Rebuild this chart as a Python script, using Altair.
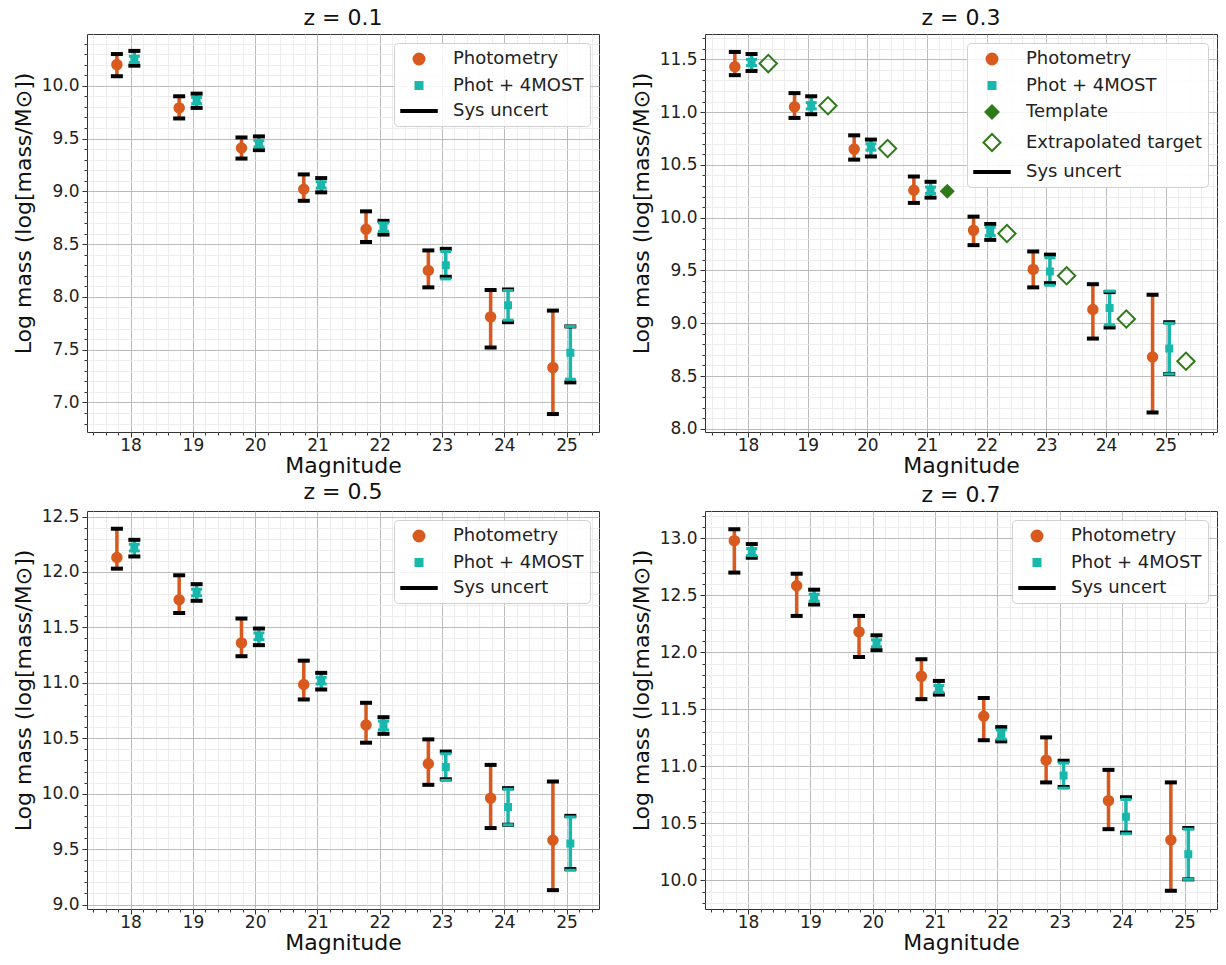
import altair as alt
import numpy as np
import pandas as pd

MAGS = [18, 19, 20, 21, 22, 23, 24, 25]
PHOT_DX = -0.22
MOST_DX = 0.06
TARGET_DX = 0.34

TITLES = ["z = 0.1", "z = 0.3", "z = 0.5", "z = 0.7"]

# ---- z = 0.1 ----
p1_phot = [10.20, 9.79, 9.41, 9.02, 8.64, 8.25, 7.81, 7.33]
p1_phot_lo = [10.09, 9.69, 9.31, 8.91, 8.52, 8.09, 7.52, 6.89]
p1_phot_hi = [10.30, 9.90, 9.51, 9.16, 8.81, 8.44, 8.065, 7.87]
p1_most = [10.25, 9.86, 9.45, 9.06, 8.66, 8.30, 7.92, 7.47]
p1_most_lo = [10.19, 9.79, 9.39, 8.99, 8.59, 8.19, 7.76, 7.19]
p1_most_hi = [10.33, 9.925, 9.52, 9.125, 8.72, 8.455, 8.07, 7.72]
p1_most_err = [0.03, 0.03, 0.03, 0.03, 0.04, 0.13, 0.14, 0.25]

# ---- z = 0.3 ----
p2_phot = [11.43, 11.05, 10.65, 10.26, 9.88, 9.51, 9.13, 8.68]
p2_phot_lo = [11.35, 10.945, 10.55, 10.14, 9.74, 9.34, 8.855, 8.155]
p2_phot_hi = [11.57, 11.18, 10.78, 10.39, 10.01, 9.68, 9.37, 9.27]
p2_most = [11.47, 11.06, 10.67, 10.26, 9.87, 9.49, 9.145, 8.76]
p2_most_lo = [11.39, 10.98, 10.58, 10.19, 9.79, 9.38, 8.96, 8.52]
p2_most_hi = [11.55, 11.15, 10.74, 10.34, 9.94, 9.65, 9.295, 9.01]
p2_most_err = [0.03, 0.03, 0.03, 0.03, 0.04, 0.13, 0.16, 0.24]
p2_template_mag = [21]
p2_template_val = [10.25]
p2_target_mag = [18, 19, 20, 22, 23, 24, 25]
p2_target_val = [11.46, 11.06, 10.655, 9.85, 9.45, 9.04, 8.64]

# ---- z = 0.5 ----
p3_phot = [12.13, 11.75, 11.36, 10.985, 10.62, 10.27, 9.96, 9.58]
p3_phot_lo = [12.03, 11.63, 11.24, 10.85, 10.46, 10.08, 9.69, 9.13]
p3_phot_hi = [12.39, 11.97, 11.58, 11.20, 10.82, 10.49, 10.26, 10.11]
p3_most = [12.22, 11.815, 11.42, 11.02, 10.615, 10.24, 9.88, 9.55]
p3_most_lo = [12.14, 11.74, 11.34, 10.94, 10.54, 10.13, 9.72, 9.32]
p3_most_hi = [12.29, 11.89, 11.49, 11.09, 10.69, 10.38, 10.05, 9.80]
p3_most_err = [0.03, 0.03, 0.03, 0.03, 0.04, 0.12, 0.16, 0.24]

# ---- z = 0.7 ----
p4_phot = [12.98, 12.585, 12.18, 11.79, 11.44, 11.055, 10.70, 10.355]
p4_phot_lo = [12.70, 12.32, 11.96, 11.59, 11.23, 10.86, 10.45, 9.91]
p4_phot_hi = [13.08, 12.69, 12.32, 11.94, 11.60, 11.255, 10.97, 10.86]
p4_most = [12.88, 12.48, 12.08, 11.68, 11.28, 10.92, 10.56, 10.23]
p4_most_lo = [12.83, 12.42, 12.02, 11.63, 11.22, 10.82, 10.42, 10.01]
p4_most_hi = [12.95, 12.55, 12.15, 11.75, 11.345, 11.05, 10.73, 10.46]
p4_most_err = [0.03, 0.03, 0.03, 0.03, 0.04, 0.11, 0.15, 0.22]

ORANGE = "#d95a1e"
TEAL = "#19b7ac"
GREEN = "#2f7a18"
FONT = "DejaVu Sans"

# shape, fill, stroke, marker size, legend symbol size
STYLE = {
    "Photometry": ("circle", ORANGE, ORANGE, 90, 120),
    "Phot + 4MOST": ("square", TEAL, TEAL, 36, 49),
    "Template": ("diamond", GREEN, GREEN, 150, 170),
    "Extrapolated target": ("diamond", "transparent", GREEN, 300, 290),
    "Sys uncert": ("M-2.05,-0.115L2.05,-0.115L2.05,0.115L-2.05,0.115Z", "black", "black", 0, 300),
}

YTITLE = "Log mass (log[mass/M\u2299])"
PANEL_W = 512


def minor_values(lo, hi, step, major_step):
    vals = []
    k0 = int(np.ceil(lo / step - 1e-9))
    k1 = int(np.floor(hi / step + 1e-9))
    for k in range(k0, k1 + 1):
        v = round(k * step, 4)
        r = v / major_step
        if abs(r - round(r)) > 1e-6:
            vals.append(v)
    return vals


def legend_size_expr(dom):
    expr = str(STYLE[dom[-1]][4])
    for s in reversed(dom[:-1]):
        expr = "datum.value === '%s' ? %s : (%s)" % (s, STYLE[s][4], expr)
    return expr


def panel(title, height, phot, phot_lo, phot_hi, most, most_lo, most_hi, most_err,
          xdom, ydom, yticks, tmpl_mag=(), tmpl_val=(), targ_mag=(), targ_val=()):
    xs_phot = [m + PHOT_DX for m in MAGS]
    xs_most = [m + MOST_DX for m in MAGS]
    bars = pd.DataFrame({
        "series": ["Photometry"] * len(MAGS) + ["Phot + 4MOST"] * len(MAGS),
        "x": xs_phot + xs_most,
        "lo": list(phot_lo) + list(most_lo),
        "hi": list(phot_hi) + list(most_hi),
    })
    terr = pd.DataFrame({
        "x": xs_most,
        "elo": [v - e for v, e in zip(most, most_err)],
        "ehi": [v + e for v, e in zip(most, most_err)],
    })
    pts = pd.DataFrame({
        "series": ["Photometry"] * len(MAGS) + ["Phot + 4MOST"] * len(MAGS)
        + ["Template"] * len(tmpl_mag) + ["Extrapolated target"] * len(targ_mag),
        "x": xs_phot + xs_most + [m + TARGET_DX for m in tmpl_mag] + [m + TARGET_DX for m in targ_mag],
        "y": list(phot) + list(most) + list(tmpl_val) + list(targ_val),
    })
    if len(tmpl_mag):
        dom = ["Photometry", "Phot + 4MOST", "Template", "Extrapolated target", "Sys uncert"]
    else:
        dom = ["Photometry", "Phot + 4MOST", "Sys uncert"]

    xsc = alt.Scale(domain=list(xdom), nice=False, zero=False)
    ysc = alt.Scale(domain=list(ydom), nice=False, zero=False)

    x_major = alt.Axis(values=MAGS, title="Magnitude", grid=True, gridColor="#b4b4b4",
                       gridWidth=0.9, tickSize=5, labelPadding=0, titlePadding=2,
                       orient="bottom", format="d")
    y_major = alt.Axis(values=list(yticks), title=YTITLE, grid=True, gridColor="#b4b4b4",
                       gridWidth=0.9, tickSize=5, labelPadding=3, titlePadding=6,
                       titleY=height / 2 - 20, orient="left", format=".1f")
    x_minor = alt.Axis(values=minor_values(xdom[0], xdom[1], 0.2, 1.0), labels=False, title=None,
                       grid=True, gridColor="#e9e9e9", gridWidth=0.8, tickSize=3,
                       orient="bottom")
    y_minor = alt.Axis(values=minor_values(ydom[0], ydom[1], 0.1, 0.5), labels=False, title=None,
                       grid=True, gridColor="#e9e9e9", gridWidth=0.8, tickSize=3,
                       orient="left")

    def xy(xfield, yfield, xaxis=None, yaxis=None):
        return dict(x=alt.X(xfield, scale=xsc, axis=xaxis), y=alt.Y(yfield, scale=ysc, axis=yaxis))

    base = alt.Chart(bars)
    layers = []
    layers.append(base.transform_filter(alt.datum.series == "Photometry").mark_rule(
        color=ORANGE, strokeWidth=3.5).encode(y2="hi:Q", **xy("x:Q", "lo:Q", x_minor, y_minor)))
    layers.append(base.transform_filter(alt.datum.series == "Phot + 4MOST").mark_rule(
        color=TEAL, strokeWidth=3.5).encode(y2="hi:Q", **xy("x:Q", "lo:Q")))
    for f in ("lo:Q", "hi:Q"):
        layers.append(base.mark_tick(orient="horizontal", size=12, thickness=4, color="black",
                                     opacity=1).encode(**xy("x:Q", f)))
    tbase = alt.Chart(terr)
    for f in ("elo:Q", "ehi:Q"):
        layers.append(tbase.mark_tick(orient="horizontal", size=11, thickness=3, color=TEAL,
                                      opacity=1).encode(**xy("x:Q", f)))

    # legend host (invisible marks carrying the shared legend)
    leg = alt.Legend(
        title=None, orient="top-right", offset=9, symbolOpacity=1,
        symbolSize=alt.ExprRef(expr=legend_size_expr(dom)),
    )
    layers.append(alt.Chart(pts).mark_point(filled=True, opacity=0).encode(
        shape=alt.Shape("series:N", scale=alt.Scale(domain=dom, range=[STYLE[s][0] for s in dom]), legend=leg),
        fill=alt.Fill("series:N", scale=alt.Scale(domain=dom, range=[STYLE[s][1] for s in dom]), legend=leg),
        stroke=alt.Stroke("series:N", scale=alt.Scale(domain=dom, range=[STYLE[s][2] for s in dom]), legend=leg),
        **xy("x:Q", "y:Q", x_major, y_major)))

    # visible markers, one layer per series
    present = [s for s in dom if s in set(pts["series"])]
    for s in present:
        shp, fil, stk, sz, _ = STYLE[s]
        layers.append(alt.Chart(pts).transform_filter(alt.datum.series == s).mark_point(
            shape=shp, filled=True, fill=fil, stroke=stk, strokeWidth=2, size=sz, opacity=1
        ).encode(**xy("x:Q", "y:Q")))

    return alt.layer(*layers).resolve_axis(x="independent", y="independent").properties(
        width=PANEL_W, height=height, title=title)


c1 = panel(TITLES[0], 398, p1_phot, p1_phot_lo, p1_phot_hi, p1_most, p1_most_lo, p1_most_hi, p1_most_err,
           (17.30, 25.52), (6.72, 10.49), [7.0, 7.5, 8.0, 8.5, 9.0, 9.5, 10.0])
c2 = panel(TITLES[1], 398, p2_phot, p2_phot_lo, p2_phot_hi, p2_most, p2_most_lo, p2_most_hi, p2_most_err,
           (17.28, 25.86), (7.97, 11.74), [8.0, 8.5, 9.0, 9.5, 10.0, 10.5, 11.0, 11.5],
           p2_template_mag, p2_template_val, p2_target_mag, p2_target_val)
c3 = panel(TITLES[2], 398, p3_phot, p3_phot_lo, p3_phot_hi, p3_most, p3_most_lo, p3_most_hi, p3_most_err,
           (17.30, 25.52), (8.96, 12.55), [9.0, 9.5, 10.0, 10.5, 11.0, 11.5, 12.0, 12.5])
c4 = panel(TITLES[3], 398, p4_phot, p4_phot_lo, p4_phot_hi, p4_most, p4_most_lo, p4_most_hi, p4_most_err,
           (17.31, 25.52), (9.75, 13.24), [10.0, 10.5, 11.0, 11.5, 12.0, 12.5, 13.0])

ind = dict(x="independent", y="independent", shape="independent", fill="independent",
           stroke="independent")
legind = dict(shape="independent", fill="independent", stroke="independent")
row1 = alt.hconcat(c1, c2, spacing=29).resolve_scale(**ind).resolve_legend(**legind)
row2 = alt.hconcat(c3, c4, spacing=29).resolve_scale(**ind).resolve_legend(**legind)
chart = alt.vconcat(row1, row2, spacing=3).resolve_scale(**ind).resolve_legend(**legind)

chart = chart.properties(padding={"left": 3, "top": -2, "right": 0, "bottom": 0}).configure(
    font=FONT,
).configure_view(
    stroke="#333333", strokeWidth=1,
).configure_axis(
    labelFont=FONT, labelFontSize=17, labelColor="#222222",
    titleFont=FONT, titleFontSize=22, titleFontWeight="normal", titleColor="#111111",
    tickColor="#333333", domain=False,
).configure_title(
    font=FONT, fontSize=22, fontWeight="normal", color="#111111", offset=0, anchor="middle",
).configure_legend(
    labelFont=FONT, labelFontSize=18, labelColor="#222222", labelLimit=400,
    fillColor="rgba(255,255,255,0.85)", strokeColor="#d0d0d0", cornerRadius=4,
    padding=6, rowPadding=6.5, symbolStrokeWidth=2, symbolOffset=9, labelOffset=24,
)

chart.save("out.html", embed_options={"renderer": "svg", "actions": False})
